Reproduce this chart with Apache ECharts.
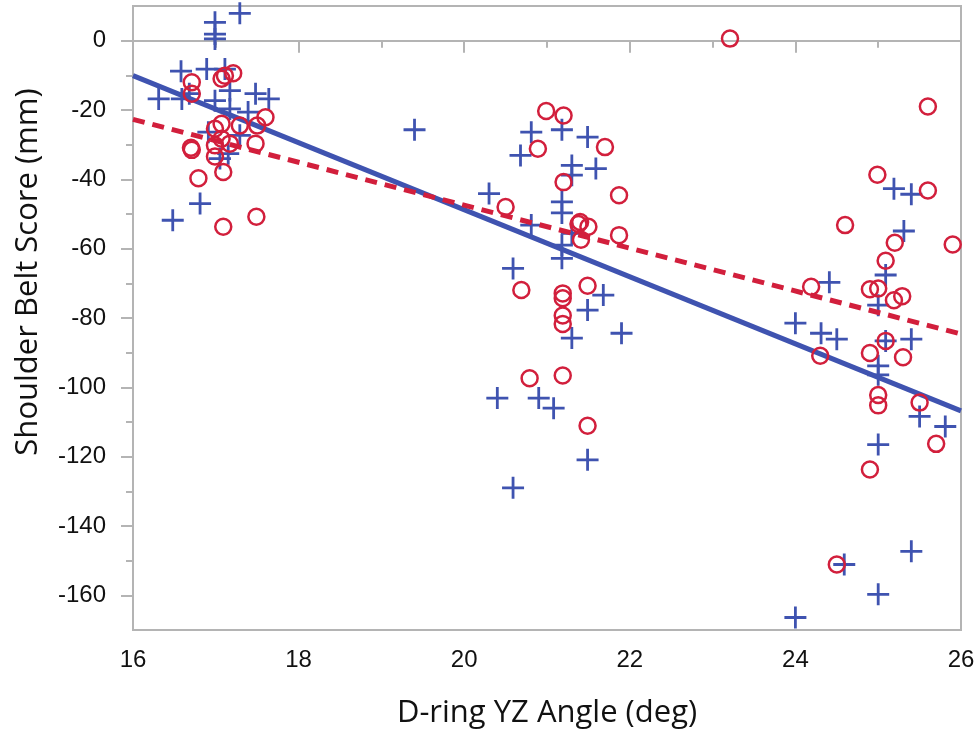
<!DOCTYPE html>
<html>
<head>
<meta charset="utf-8">
<script src="https://cdn.jsdelivr.net/npm/echarts@6/dist/echarts.min.js"></script>
<style>html,body{margin:0;padding:0;background:#fff;}#c{width:980px;height:740px;}</style>
</head>
<body>
<div id="c"></div>
<script>
// ---- data ----
var xTicks = [16, 18, 20, 22, 24, 26];
var yMajorTicks = [-160, -140, -120, -100, -80, -60, -40, -20, 0];
var yMinorTicks = [-150, -130, -110, -90, -70, -50, -30, -10];

var bluePlus = [
  [17.29, 7.9], [16.99, 5.3], [16.99, 1.9], [16.99, 0.5],
  [16.58, -8.8], [16.89, -8.2], [17.11, -8.2], [17.17, -14.4],
  [16.31, -16.8], [16.59, -16.8], [16.68, -15.3], [16.99, -17.3],
  [17.17, -19.7], [17.48, -15.3], [17.64, -16.8], [17.39, -20.6],
  [16.91, -26.4], [17.29, -27.3], [17.05, -34.0], [17.15, -32.6],
  [16.81, -47.0], [16.48, -51.8],
  [19.40, -25.7], [20.81, -26.4], [21.18, -25.7], [21.49, -27.8],
  [20.68, -33.1], [21.30, -36.0], [21.59, -36.9], [21.30, -38.8],
  [20.30, -44.1], [21.18, -46.5], [21.18, -49.7], [20.81, -53.2],
  [21.30, -55.6], [21.18, -59.0], [21.18, -62.8], [20.59, -65.7],
  [21.68, -73.4], [21.49, -77.7], [21.90, -84.4], [21.30, -85.8],
  [20.40, -103.1], [20.90, -103.1], [21.08, -106.0], [21.49, -120.9],
  [20.59, -129.0],
  [25.19, -42.7], [25.40, -44.3], [25.31, -54.9], [25.09, -67.6],
  [24.41, -69.7], [25.00, -76.3], [24.00, -81.5], [24.31, -84.4],
  [24.50, -86.1], [25.09, -86.6], [25.40, -86.1], [25.00, -93.8],
  [25.00, -96.4], [25.50, -108.4], [25.81, -111.3], [25.00, -116.5],
  [24.59, -151.1], [25.40, -147.3], [25.00, -159.7], [24.00, -166.4]
];

var redCircle = [
  [17.11, -10.1], [17.21, -9.4], [17.07, -11.0], [16.71, -12.0],
  [16.71, -15.3], [17.60, -22.1], [17.50, -24.5], [17.29, -24.5],
  [17.07, -24.0], [16.99, -25.4], [17.07, -28.3], [17.17, -29.7],
  [17.48, -29.7], [16.70, -30.9], [16.71, -31.5], [16.99, -30.2],
  [16.99, -33.4], [17.09, -37.9], [16.79, -39.7], [17.09, -53.7],
  [17.49, -50.8],
  [23.21, 0.6], [20.99, -20.3], [21.20, -21.6], [20.89, -31.2],
  [21.70, -30.7], [21.20, -40.8], [21.87, -44.6], [20.50, -48.0],
  [21.40, -52.3], [21.38, -52.9], [21.50, -53.7], [21.41, -57.4],
  [21.87, -56.1], [20.69, -71.9], [21.19, -72.9], [21.19, -74.3],
  [21.49, -70.7], [21.19, -79.3], [21.19, -81.7], [20.79, -97.4],
  [21.19, -96.6], [21.49, -111.1],
  [25.60, -19.0], [24.99, -38.7], [25.60, -43.2], [24.60, -53.2],
  [25.20, -58.3], [25.90, -58.8], [25.09, -63.5], [24.19, -71.0],
  [24.90, -71.7], [25.00, -71.5], [25.19, -74.9], [25.29, -73.7],
  [24.30, -90.9], [25.09, -86.6], [24.90, -90.1], [25.30, -91.3],
  [25.00, -102.2], [25.00, -105.2], [25.50, -104.4], [25.70, -116.3],
  [24.90, -123.7], [24.50, -151.1]
];

var blueFit = [[16, -10.1], [26, -106.8]];
var redFit = [[16, -22.7], [26, -84.6]];

// ---- styling ----
var BLUE = '#3F53B0';
var RED = '#D21F3C';
var AX = '#b4b4b4';
var plusPath = 'path://M0,9.6 H22 V12.4 H0 Z M9.6,0 H12.4 V22 H9.6 Z';

var chart = echarts.init(document.getElementById('c'), null, {renderer: 'canvas'});
chart.setOption({
  animation: false,
  backgroundColor: '#fff',
  grid: {left: 133, right: 19, top: 6, bottom: 110, show: true, borderColor: AX, borderWidth: 2},
  xAxis: {
    type: 'value', min: 16, max: 26, interval: 2,
    axisLine: {show: true, lineStyle: {color: AX, width: 2}},
    axisTick: {show: true, length: 12, lineStyle: {color: AX, width: 2}},
    minorTick: {show: true, splitNumber: 2, length: 7, lineStyle: {color: AX, width: 2}},
    splitLine: {show: false},
    axisLabel: {margin: 18, color: '#111', fontSize: 24, fontFamily: 'Liberation Sans',
      customValues: xTicks},
    name: 'D-ring YZ Angle (deg)', nameLocation: 'middle', nameGap: 68,
    nameTextStyle: {color: '#111', fontSize: 31, fontFamily: 'Open Sans'}
  },
  yAxis: [{
    type: 'value', min: -170, max: 10,
    axisLine: {show: true, lineStyle: {color: AX, width: 2}},
    axisTick: {show: true, length: 12, lineStyle: {color: AX, width: 2}, customValues: yMajorTicks},
    splitLine: {show: false},
    axisLabel: {margin: 27, color: '#111', fontSize: 24, fontFamily: 'Liberation Sans', customValues: yMajorTicks}
  }, {
    type: 'value', min: -170, max: 10, position: 'left',
    axisLine: {show: false},
    axisTick: {show: true, length: 7, lineStyle: {color: AX, width: 2}, customValues: yMinorTicks},
    axisLabel: {show: false, customValues: yMinorTicks},
    splitLine: {show: false}
  }],
  graphic: [{
    type: 'text', x: 28, y: 272, rotation: Math.PI / 2,
    style: {text: 'Shoulder Belt Score (mm)', fill: '#111', fontSize: 31, fontFamily: 'Open Sans',
      align: 'center', verticalAlign: 'middle'}
  }],
  series: [{
    type: 'scatter', data: bluePlus, symbol: plusPath, symbolSize: 22, z: 2,
    itemStyle: {color: BLUE, opacity: 1}
  }, {
    type: 'line', data: blueFit, symbol: 'none', z: 3,
    lineStyle: {color: BLUE, width: 5}
  }, {
    type: 'line', data: redFit, symbol: 'none', z: 4,
    lineStyle: {color: RED, width: 5, type: [12, 8]}
  }, {
    type: 'scatter', data: redCircle, symbol: 'circle', symbolSize: 16, z: 5,
    itemStyle: {color: 'rgba(0,0,0,0)', borderColor: RED, borderWidth: 2.5, opacity: 1}
  }]
});
</script>
</body>
</html>
